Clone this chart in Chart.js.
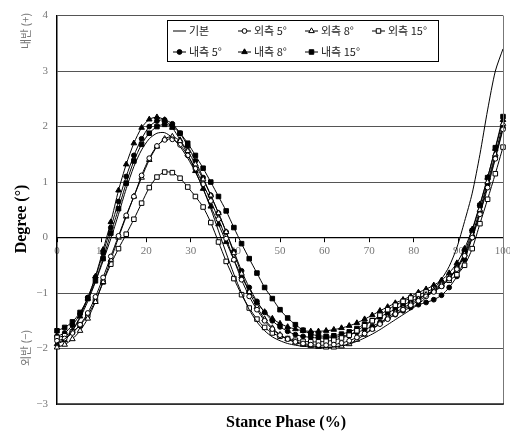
<!DOCTYPE html>
<html lang="ko">
<head>
<meta charset="UTF-8">
<title>Stance Phase - Degree</title>
<script src="https://cdn.jsdelivr.net/npm/chart.js"></script>
<style>
    html, body { margin: 0; padding: 0; background: #fff; }
    #wrap { width: 510px; height: 444px; }
</style>
</head>
<body>
<div id="wrap"><canvas id="phaseChart" width="510" height="444"></canvas></div>
<script>
// stance phase (%) of each sample
const phase = [0, 1.72, 3.45, 5.17, 6.90, 8.62, 10.34, 12.07, 13.79, 15.52,
    17.24, 18.97, 20.69, 22.41, 24.14, 25.86, 27.59, 29.31, 31.03, 32.76,
    34.48, 36.21, 37.93, 39.66, 41.38, 43.10, 44.83, 46.55, 48.28, 50.00,
    51.72, 53.45, 55.17, 56.90, 58.62, 60.34, 62.07, 63.79, 65.52, 67.24,
    68.97, 70.69, 72.41, 74.14, 75.86, 77.59, 79.31, 81.03, 82.76, 84.48,
    86.21, 87.93, 89.66, 91.38, 93.10, 94.83, 96.55, 98.28, 100];

const basic = [-1.90, -1.83, -1.68, -1.45, -1.15, -0.80, -0.42, -0.02, 0.42, 0.88,
    1.28, 1.58, 1.78, 1.88, 1.89, 1.80, 1.64, 1.43, 1.18, 0.88,
    0.52, 0.12, -0.28, -0.66, -1.00, -1.30, -1.52, -1.68, -1.79, -1.86,
    -1.91, -1.94, -1.96, -1.97, -1.98, -1.98, -1.97, -1.95, -1.92, -1.87,
    -1.81, -1.74, -1.66, -1.57, -1.48, -1.39, -1.30, -1.20, -1.08, -0.93,
    -0.75, -0.52, -0.18, 0.29, 0.80, 1.50, 2.30, 3.00, 3.40];

const out5 = [-1.86, -1.82, -1.72, -1.57, -1.36, -1.07, -0.72, -0.34, 0.03, 0.40,
    0.74, 1.12, 1.43, 1.65, 1.76, 1.77, 1.67, 1.48, 1.24, 0.96,
    0.66, 0.33, -0.02, -0.40, -0.76, -1.06, -1.30, -1.50, -1.65, -1.76,
    -1.83, -1.88, -1.91, -1.93, -1.94, -1.94, -1.93, -1.90, -1.86, -1.80,
    -1.73, -1.65, -1.56, -1.47, -1.38, -1.30, -1.22, -1.14, -1.06, -0.98,
    -0.88, -0.74, -0.57, -0.33, 0.00, 0.42, 0.90, 1.42, 1.95];

const out8 = [-1.98, -1.93, -1.83, -1.68, -1.46, -1.16, -0.80, -0.40, 0.00, 0.38,
    0.74, 1.08, 1.40, 1.64, 1.78, 1.82, 1.74, 1.56, 1.32, 1.05,
    0.76, 0.44, 0.10, -0.28, -0.65, -0.98, -1.25, -1.47, -1.63, -1.75,
    -1.83, -1.89, -1.93, -1.95, -1.97, -1.98, -1.98, -1.96, -1.92, -1.84,
    -1.75, -1.65, -1.54, -1.44, -1.35, -1.27, -1.19, -1.11, -1.03, -0.95,
    -0.85, -0.72, -0.55, -0.30, 0.05, 0.50, 1.00, 1.50, 2.05];

const out15 = [-1.80, -1.77, -1.70, -1.58, -1.40, -1.14, -0.80, -0.48, -0.20, 0.06,
    0.33, 0.62, 0.90, 1.09, 1.18, 1.17, 1.07, 0.91, 0.74, 0.55,
    0.27, -0.08, -0.43, -0.74, -1.03, -1.27, -1.47, -1.62, -1.72, -1.78,
    -1.82, -1.85, -1.87, -1.88, -1.88, -1.87, -1.85, -1.81, -1.76, -1.68,
    -1.59, -1.50, -1.40, -1.30, -1.22, -1.15, -1.09, -1.03, -0.98, -0.92,
    -0.85, -0.77, -0.67, -0.50, -0.20, 0.25, 0.69, 1.15, 1.63];

const in5 = [-1.78, -1.72, -1.58, -1.38, -1.08, -0.72, -0.28, 0.18, 0.65, 1.10,
    1.48, 1.78, 2.00, 2.10, 2.12, 2.05, 1.88, 1.65, 1.38, 1.08,
    0.76, 0.44, 0.10, -0.25, -0.60, -0.90, -1.15, -1.35, -1.50, -1.61,
    -1.69, -1.75, -1.78, -1.80, -1.81, -1.81, -1.80, -1.78, -1.75, -1.71,
    -1.66, -1.60, -1.53, -1.46, -1.39, -1.32, -1.26, -1.21, -1.17, -1.12,
    -1.04, -0.90, -0.70, -0.40, 0.00, 0.45, 0.95, 1.45, 1.98];

const in8 = [-1.92, -1.85, -1.68, -1.42, -1.10, -0.70, -0.22, 0.28, 0.85, 1.32,
    1.70, 1.98, 2.13, 2.17, 2.12, 1.98, 1.76, 1.50, 1.20, 0.88,
    0.56, 0.24, -0.08, -0.40, -0.70, -0.96, -1.17, -1.34, -1.46, -1.55,
    -1.61, -1.65, -1.68, -1.69, -1.69, -1.68, -1.66, -1.63, -1.59, -1.54,
    -1.47, -1.40, -1.32, -1.25, -1.18, -1.12, -1.06, -0.99, -0.93, -0.86,
    -0.77, -0.64, -0.46, -0.20, 0.15, 0.60, 1.08, 1.60, 2.12];

const in15 = [-1.68, -1.62, -1.52, -1.35, -1.10, -0.78, -0.38, 0.08, 0.52, 0.98,
    1.38, 1.68, 1.88, 2.00, 2.04, 2.00, 1.88, 1.70, 1.48, 1.25,
    1.00, 0.74, 0.48, 0.18, -0.11, -0.38, -0.64, -0.90, -1.10, -1.30,
    -1.45, -1.57, -1.67, -1.74, -1.77, -1.78, -1.77, -1.74, -1.70, -1.64,
    -1.56, -1.50, -1.43, -1.36, -1.29, -1.22, -1.15, -1.09, -1.03, -0.96,
    -0.87, -0.74, -0.55, -0.27, 0.12, 0.58, 1.08, 1.62, 2.18];

const seriesNames = ['기본', '외측 5°', '외측 8°', '외측 15°', '내측 5°', '내측 8°', '내측 15°'];
const seriesValues = [basic, out5, out8, out15, in5, in8, in15];
const seriesShapes = [null, 'circle', 'triangle', 'rect', 'circle', 'triangle', 'rect'];
const seriesFilled = [false, false, false, false, true, true, true];

const serif = "'Liberation Serif', 'DejaVu Serif', serif";
const hangul = "'Noto Sans CJK KR', 'Noto Sans', sans-serif";

function markRadius(shape) {
    if (shape === 'circle') return 2.4;
    return 3.2;
}

function makeDataset(i) {
    const shape = seriesShapes[i];
    return {
        label: seriesNames[i],
        data: seriesValues[i].map((v, k) => ({ x: phase[k], y: v })),
        borderColor: '#000',
        borderWidth: 1,
        tension: 0.25,
        pointStyle: shape || false,
        pointRadius: shape ? markRadius(shape) : 0,
        pointBorderWidth: 1,
        pointBorderColor: '#000',
        pointBackgroundColor: seriesFilled[i] ? '#000' : '#fff',
        clip: false
    };
}

// little marker for the legend, same shapes as the chart points
function drawMark(ctx, shape, x, y, filled) {
    const r = markRadius(shape);
    ctx.beginPath();
    if (shape === 'circle') {
        ctx.arc(x, y, r, 0, Math.PI * 2);
    } else if (shape === 'rect') {
        const s = r * Math.SQRT1_2;
        ctx.rect(x - s, y - s, s * 2, s * 2);
    } else if (shape === 'triangle') {
        ctx.moveTo(x, y - r);
        ctx.lineTo(x + r * 0.866, y + r * 0.5);
        ctx.lineTo(x - r * 0.866, y + r * 0.5);
        ctx.closePath();
    }
    ctx.fillStyle = filled ? '#000' : '#fff';
    ctx.fill();
    ctx.stroke();
}

const legendBox = { left: 167, top: 20, right: 438, bottom: 61 };
const legendCols = [6, 71, 138, 205];
const legendRows = [11, 32];

const boxLegend = {
    id: 'boxLegend',
    afterDraw(chart) {
        const ctx = chart.ctx;
        ctx.save();
        ctx.fillStyle = '#fff';
        ctx.fillRect(legendBox.left, legendBox.top, legendBox.right - legendBox.left, legendBox.bottom - legendBox.top);
        ctx.strokeStyle = '#000';
        ctx.lineWidth = 1;
        ctx.strokeRect(legendBox.left + 0.5, legendBox.top + 0.5, legendBox.right - legendBox.left, legendBox.bottom - legendBox.top);
        ctx.font = '11px ' + hangul;
        ctx.textBaseline = 'middle';
        seriesNames.forEach((name, i) => {
            const col = i < 4 ? i : i - 4;
            const row = i < 4 ? 0 : 1;
            const x = legendBox.left + legendCols[col];
            const y = legendBox.top + legendRows[row];
            ctx.strokeStyle = '#000';
            ctx.lineWidth = 1;
            ctx.beginPath();
            ctx.moveTo(x, y);
            ctx.lineTo(x + 13, y);
            ctx.stroke();
            if (seriesShapes[i]) drawMark(ctx, seriesShapes[i], x + 6.5, y, seriesFilled[i]);
            ctx.fillStyle = '#222';
            ctx.fillText(name, x + 16, y);
        });
        ctx.restore();
    }
};

// frame lines and the rotated / bottom axis captions
const frameAndTitles = {
    id: 'frameAndTitles',
    afterDraw(chart) {
        const ctx = chart.ctx;
        const a = chart.chartArea;
        ctx.save();
        ctx.strokeStyle = '#777';
        ctx.lineWidth = 1;
        ctx.beginPath();
        ctx.moveTo(a.right + 0.5, a.top);
        ctx.lineTo(a.right + 0.5, a.bottom);
        ctx.stroke();
        ctx.strokeStyle = '#222';
        ctx.lineWidth = 1.5;
        ctx.beginPath();
        ctx.moveTo(a.left, a.bottom);
        ctx.lineTo(a.right + 1, a.bottom);
        ctx.stroke();

        ctx.fillStyle = '#000';
        ctx.textAlign = 'center';
        ctx.textBaseline = 'middle';
        ctx.font = 'bold 16px ' + serif;
        ctx.fillText('Stance Phase (%)', 286, 423);

        ctx.save();
        ctx.translate(22, 219);
        ctx.rotate(-Math.PI / 2);
        ctx.fillText('Degree (°)', 0, 0);
        ctx.restore();

        ctx.fillStyle = '#777';
        ctx.font = '11px ' + hangul;
        [['내반 (+)', 31], ['외반 (−)', 348]].forEach(([text, y]) => {
            ctx.save();
            ctx.translate(26, y);
            ctx.rotate(-Math.PI / 2);
            ctx.fillText(text, 0, 0);
            ctx.restore();
        });
        ctx.restore();
    }
};

const ctx = document.getElementById('phaseChart').getContext('2d');
const chart = new Chart(ctx, {
    type: 'line',
    data: { datasets: seriesValues.map((_, i) => makeDataset(i)) },
    options: {
        responsive: false,
        animation: false,
        devicePixelRatio: 1,
        layout: { padding: { left: 0, top: 8, right: 7, bottom: 40 } },
        plugins: { legend: { display: false }, tooltip: { enabled: false } },
        scales: {
            x: {
                type: 'linear',
                position: { y: 0 },
                min: 0,
                max: 100,
                ticks: {
                    stepSize: 10,
                    maxRotation: 0,
                    padding: 3,
                    color: '#777',
                    font: { family: serif, size: 11 }
                },
                grid: { display: true, drawOnChartArea: false, drawTicks: true, tickLength: 4, color: '#000' },
                border: { display: true, color: '#000', width: 1.2 },
                afterFit(scale) {
                    scale.paddingLeft = 0;
                    scale.paddingRight = 0;
                }
            },
            y: {
                min: -3,
                max: 4,
                ticks: {
                    stepSize: 1,
                    padding: 9,
                    color: '#777',
                    font: { family: serif, size: 11 },
                    callback: v => v < 0 ? '−' + Math.abs(v) : String(v)
                },
                grid: { color: '#555', lineWidth: 1, drawTicks: false },
                border: { display: true, color: '#000', width: 1.5 },
                afterFit(scale) {
                    scale.width = 57;
                }
            }
        }
    },
    plugins: [boxLegend, frameAndTitles]
});
</script>
</body>
</html>
